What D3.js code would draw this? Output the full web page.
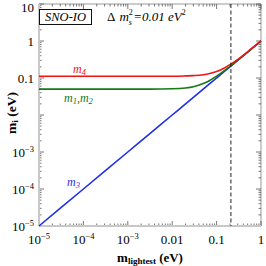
<!DOCTYPE html>
<html lang="en">
<head>
    <meta charset="UTF-8">
    <title>SNO-IO masses</title>
    <script src="https://cdn.jsdelivr.net/npm/d3@7"></script>
    <style>
        html, body {
            padding: 0;
            margin: 0;
            background: white;
        }

        svg text {
            font-family: "Liberation Serif", "DejaVu Serif", serif;
        }
    </style>
</head>
<body>
<div id="chart"></div>
<script>
    // lightest mass (eV) and the masses
    let mLight = [1e-5, 1e-4, 1e-3, 0.003, 0.01, 0.02, 0.03, 0.05, 0.07, 0.1, 0.15, 0.2, 0.3, 0.5, 0.7, 1];
    let m12 = [0.0500, 0.0500, 0.0500, 0.0501, 0.0510, 0.0539, 0.0583, 0.0707, 0.0860, 0.112, 0.158, 0.206, 0.304, 0.5025, 0.702, 1.001];
    let m4 = [0.112, 0.112, 0.112, 0.112, 0.112, 0.114, 0.116, 0.122, 0.132, 0.150, 0.187, 0.229, 0.320, 0.512, 0.709, 1.006];
    let m3 = [1e-5, 1e-4, 1e-3, 0.003, 0.01, 0.02, 0.03, 0.05, 0.07, 0.1, 0.15, 0.2, 0.3, 0.5, 0.7, 1];
    let cutLine = 0.21;

    let xTicks = [1e-5, 1e-4, 1e-3, 0.01, 0.1, 1];
    let xLabels = [["10", "-5"], ["10", "-4"], ["10", "-3"], ["0.01"], ["0.1"], ["1"]];
    let yTicks = [1e-5, 1e-4, 1e-3, 0.1, 1, 10];
    let yLabels = [["10", "-5"], ["10", "-4"], ["10", "-3"], ["0.1"], ["1"], ["10"]];

    let W = 266, H = 266;
    let pL = 39, pR = 261, pT = 4, pB = 226;

    let svg = d3.select("#chart").append("svg")
        .attr("width", W).attr("height", H);

    let x = d3.scaleLog().domain([1e-5, 1]).range([pL, pR]);
    let y = d3.scaleLog().domain([1e-5, 10]).range([pB, pT]);

    // minor + major ticks
    function allTicks(lo, hi) {
        let t = [];
        for (let e = lo; e < hi; e++) {
            for (let k = 1; k < 10; k++) t.push(k * Math.pow(10, e));
        }
        t.push(Math.pow(10, hi));
        return t;
    }

    let xt = allTicks(-5, 0);
    let yt = allTicks(-5, 1);
    let tickCol = "#555";

    function isMajor(v) {
        let l = Math.log10(v);
        return Math.abs(l - Math.round(l)) < 1e-6;
    }

    // frame
    svg.append("line").attr("x1", pL).attr("x2", pR).attr("y1", pT).attr("y2", pT)
        .attr("stroke", "#999").attr("stroke-width", 1);
    svg.append("line").attr("x1", pR).attr("x2", pR).attr("y1", pT).attr("y2", pB)
        .attr("stroke", "#999").attr("stroke-width", 1);

    svg.selectAll("line.xtb").data(xt).enter().append("line")
        .attr("x1", function (d) { return x(d); }).attr("x2", function (d) { return x(d); })
        .attr("y1", pB).attr("y2", function (d) { return pB - (isMajor(d) ? 5 : 2.5); })
        .attr("stroke", tickCol).attr("stroke-width", 0.8);
    svg.selectAll("line.xtt").data(xt).enter().append("line")
        .attr("x1", function (d) { return x(d); }).attr("x2", function (d) { return x(d); })
        .attr("y1", pT).attr("y2", function (d) { return pT + (isMajor(d) ? 5 : 2.5); })
        .attr("stroke", tickCol).attr("stroke-width", 0.8);
    svg.selectAll("line.ytl").data(yt).enter().append("line")
        .attr("y1", function (d) { return y(d); }).attr("y2", function (d) { return y(d); })
        .attr("x1", pL).attr("x2", function (d) { return pL + (isMajor(d) ? 5 : 2.5); })
        .attr("stroke", tickCol).attr("stroke-width", 0.8);
    svg.selectAll("line.ytr").data(yt).enter().append("line")
        .attr("y1", function (d) { return y(d); }).attr("y2", function (d) { return y(d); })
        .attr("x1", pR).attr("x2", function (d) { return pR - (isMajor(d) ? 5 : 2.5); })
        .attr("stroke", tickCol).attr("stroke-width", 0.8);

    svg.append("line").attr("x1", pL).attr("x2", pR).attr("y1", pB).attr("y2", pB)
        .attr("stroke", "#c8c8c8").attr("stroke-width", 2);
    svg.append("line").attr("x1", pL).attr("x2", pL).attr("y1", pT).attr("y2", pB)
        .attr("stroke", "#c8c8c8").attr("stroke-width", 2);

    // tick labels
    function label(sel, parts) {
        sel.append("tspan").text(parts[0]);
        if (parts.length > 1) {
            sel.append("tspan").text("\u2212" + parts[1].slice(1))
                .attr("dy", -5).style("font-size", "8.5px");
        }
    }

    xTicks.forEach(function (d, i) {
        let t = svg.append("text")
            .attr("x", x(d)).attr("y", 244)
            .attr("text-anchor", "middle")
            .style("font-size", "13px");
        label(t, xLabels[i]);
    });

    yTicks.forEach(function (d, i) {
        let parts = yLabels[i];
        let t = svg.append("text")
            .attr("x", 34).attr("y", Math.max(y(d) + 4.5, 12))
            .attr("text-anchor", "end")
            .style("font-size", "13px");
        label(t, parts);
    });

    // axis titles
    let xt1 = svg.append("text").attr("x", 150).attr("y", 262)
        .attr("text-anchor", "middle")
        .style("font-size", "13px").style("font-weight", "bold");
    xt1.append("tspan").text("m");
    xt1.append("tspan").text("lightest").attr("dy", 2).style("font-size", "9px");
    xt1.append("tspan").text(" (eV)").attr("dy", -2);

    let yt1 = svg.append("text")
        .attr("transform", "translate(16," + 113 + ") rotate(-90)")
        .attr("text-anchor", "middle")
        .style("font-size", "13.5px").style("font-weight", "bold");
    yt1.append("tspan").text("m");
    yt1.append("tspan").text("i").attr("dy", 2).style("font-size", "9px");
    yt1.append("tspan").text(" (eV)").attr("dy", -2);

    // curves
    let line = d3.line()
        .x(function (d) { return x(d[0]); })
        .y(function (d) { return y(d[1]); })
        .curve(d3.curveMonotoneX);

    let series = [
        {vals: m3, col: "#1f2fe6"},
        {vals: m12, col: "#147a14"},
        {vals: m4, col: "#f01414"}
    ];

    series.forEach(function (s) {
        svg.append("path")
            .datum(mLight.map(function (v, i) { return [v, s.vals[i]]; }))
            .attr("d", line)
            .attr("fill", "none")
            .attr("stroke", s.col)
            .attr("stroke-width", 1.6);
    });

    // dashed line
    svg.append("line")
        .attr("x1", x(cutLine)).attr("x2", x(cutLine))
        .attr("y1", pT).attr("y2", pB)
        .attr("stroke", "#222").attr("stroke-width", 1)
        .attr("stroke-dasharray", "4,2.5");

    // curve labels
    function mLabel(px, py, col, subs) {
        let t = svg.append("text").attr("x", px).attr("y", py)
            .style("font-size", "12px").style("font-style", "italic")
            .attr("fill", col);
        subs.forEach(function (s, i) {
            if (i > 0) t.append("tspan").text(",").attr("dy", -2);
            t.append("tspan").text("m");
            t.append("tspan").text(s).attr("dy", 2).style("font-size", "8.5px");
        });
    }

    mLabel(73, 73, "#f01414", ["4"]);
    mLabel(64, 102, "#147a14", ["1", "2"]);
    mLabel(67, 186, "#1f2fe6", ["3"]);

    // info box
    svg.append("rect").attr("x", 39.5).attr("y", 9.5).attr("width", 52).attr("height", 15)
        .attr("fill", "white").attr("stroke", "#111").attr("stroke-width", 1);
    svg.append("text").attr("x", 65.5).attr("y", 21)
        .attr("text-anchor", "middle")
        .style("font-size", "12.5px").style("font-style", "italic")
        .text("SNO-IO");

    // Δ m²_s = 0.01 eV², pieces placed side by side
    let cx = 107;
    function piece(txt, dyv, size, italic) {
        let t = svg.append("text").attr("x", cx).attr("y", 21 + dyv)
            .style("font-size", size + "px")
            .style("font-style", italic ? "italic" : "normal")
            .text(txt);
        return t.node().getComputedTextLength();
    }
    cx += piece("\u0394", 0, 13, false) + 4;
    cx += piece("m", 0, 13, true);
    let w1 = piece("2", -6, 8, false);
    piece("s", 3.5, 8, true);
    cx += w1 + 0.5;
    cx += piece("=0.01 eV", 0, 13, true);
    piece("2", -6, 8, false);
</script>
</body>
</html>
